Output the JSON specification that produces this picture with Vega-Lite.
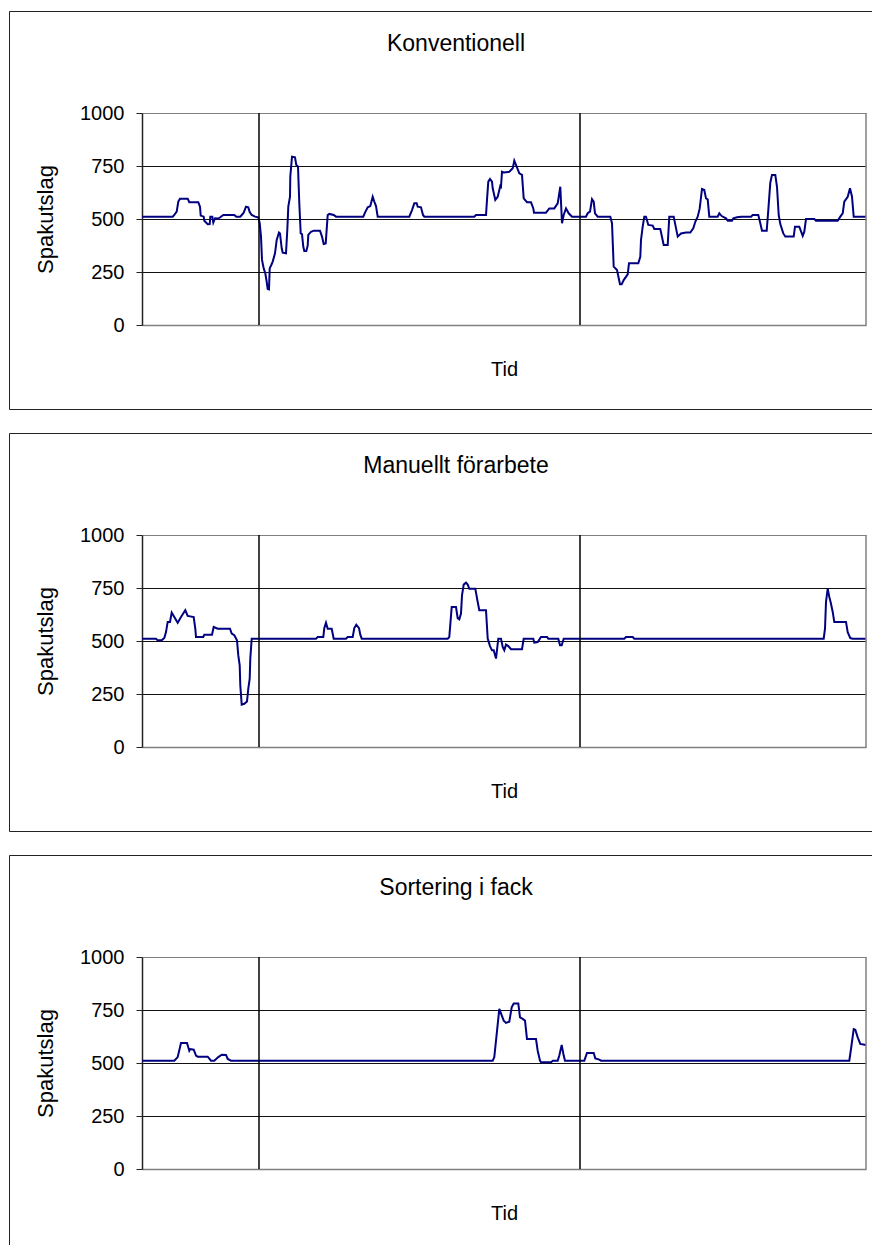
{
  "$schema": "https://vega.github.io/schema/vega-lite/v6.json",
  "padding": {"left": 8, "top": 10, "right": 0, "bottom": 0},
  "autosize": {"type": "pad"},
  "config": {
    "font": "Liberation Sans",
    "view": {"stroke": "#222222", "strokeWidth": 1},
    "concat": {"spacing": 22},
    "title": {"fontSize": 23, "fontWeight": "normal", "color": "black", "offset": -45, "baseline": "alphabetic", "anchor": "middle", "dx": 15, "font": "Liberation Sans"},
    "axisY": {"offset": -133, "domainColor": "#222222", "domainWidth": 1.5, "tickColor": "#222222", "tickSize": 6, "labelPadding": 12, "labelFontSize": 20, "labelColor": "black", "titleFontSize": 22, "titleFontWeight": "normal", "titleColor": "black", "titlePadding": 22, "gridWidth": 1},
    "axisX": {"offset": -84, "labels": false, "ticks": false, "grid": false, "domainColor": "#808080", "domainWidth": 1.5, "titleFontSize": 20, "titleFontWeight": "normal", "titlePadding": 34, "titleColor": "black"}
  },
  "datasets": {
    "konv": [
      {"t":0,"v":511},{"t":30.7,"v":511},{"t":32.3,"v":519},{"t":34.7,"v":535},{"t":36.3,"v":582},{"t":38,"v":596},{"t":45.7,"v":596},{"t":47.3,"v":579},{"t":56.3,"v":579},{"t":58,"v":558},{"t":58.7,"v":516},{"t":61.7,"v":511},{"t":62.3,"v":492},{"t":65.7,"v":475},{"t":67.7,"v":476},{"t":68.3,"v":511},{"t":70.3,"v":511},{"t":71.3,"v":483},{"t":73,"v":503},{"t":76.3,"v":502},{"t":78.3,"v":508},{"t":81.3,"v":519},{"t":92.3,"v":519},{"t":94.3,"v":511},{"t":98.3,"v":511},{"t":101.7,"v":530},{"t":104,"v":558},{"t":106.3,"v":555},{"t":107.7,"v":533},{"t":109.7,"v":519},{"t":113,"v":511},{"t":116.3,"v":508},{"t":117.7,"v":480},{"t":119,"v":417},{"t":120,"v":307},{"t":121.7,"v":267},{"t":123.3,"v":244},{"t":124.7,"v":204},{"t":125.7,"v":170},{"t":127,"v":168},{"t":127.7,"v":267},{"t":129.3,"v":283},{"t":130.7,"v":299},{"t":133,"v":338},{"t":134.7,"v":401},{"t":137,"v":436},{"t":138,"v":432},{"t":139.7,"v":362},{"t":140.7,"v":341},{"t":144,"v":338},{"t":145.3,"v":448},{"t":146.3,"v":558},{"t":148,"v":605},{"t":148.3,"v":700},{"t":150,"v":794},{"t":153,"v":791},{"t":154.3,"v":755},{"t":156,"v":747},{"t":157.3,"v":574},{"t":158.7,"v":432},{"t":160,"v":429},{"t":161.3,"v":369},{"t":162.3,"v":349},{"t":164.3,"v":349},{"t":165.7,"v":374},{"t":166.3,"v":425},{"t":169,"v":440},{"t":171.7,"v":445},{"t":178,"v":445},{"t":180,"v":417},{"t":181.7,"v":382},{"t":183.7,"v":385},{"t":185.7,"v":519},{"t":187.3,"v":524},{"t":191.7,"v":519},{"t":194,"v":511},{"t":221.3,"v":511},{"t":223,"v":530},{"t":225.7,"v":555},{"t":228.3,"v":561},{"t":230.7,"v":605},{"t":232.3,"v":582},{"t":234,"v":561},{"t":235.7,"v":511},{"t":267.3,"v":511},{"t":270,"v":542},{"t":272.3,"v":574},{"t":274.7,"v":574},{"t":275.7,"v":558},{"t":279,"v":555},{"t":281,"v":519},{"t":282.3,"v":511},{"t":332.3,"v":511},{"t":334,"v":519},{"t":344,"v":519},{"t":345,"v":590},{"t":346.3,"v":676},{"t":348,"v":689},{"t":350,"v":676},{"t":350.7,"v":645},{"t":353.3,"v":590},{"t":355.7,"v":605},{"t":358.3,"v":656},{"t":359,"v":652},{"t":360,"v":723},{"t":362.3,"v":719},{"t":367.3,"v":723},{"t":370.7,"v":739},{"t":372.3,"v":775},{"t":374,"v":755},{"t":377.3,"v":715},{"t":380,"v":708},{"t":381.7,"v":597},{"t":385,"v":579},{"t":389,"v":579},{"t":391.3,"v":550},{"t":392,"v":530},{"t":404,"v":530},{"t":407.3,"v":550},{"t":412.3,"v":550},{"t":415.7,"v":574},{"t":418.3,"v":652},{"t":420,"v":480},{"t":421.7,"v":519},{"t":424,"v":550},{"t":426.7,"v":527},{"t":430,"v":511},{"t":444,"v":511},{"t":445.7,"v":527},{"t":448,"v":535},{"t":450,"v":594},{"t":451.7,"v":582},{"t":453,"v":527},{"t":455.7,"v":511},{"t":468.3,"v":511},{"t":470,"v":480},{"t":471.7,"v":275},{"t":475,"v":259},{"t":478,"v":192},{"t":479.7,"v":192},{"t":481.7,"v":212},{"t":485.7,"v":239},{"t":487,"v":291},{"t":496.3,"v":291},{"t":498.3,"v":322},{"t":499,"v":401},{"t":500.7,"v":464},{"t":502.3,"v":511},{"t":504,"v":511},{"t":506.3,"v":472},{"t":510.7,"v":469},{"t":512.3,"v":453},{"t":518.3,"v":453},{"t":521.7,"v":377},{"t":525.7,"v":377},{"t":527.3,"v":511},{"t":531.7,"v":511},{"t":535.7,"v":417},{"t":539,"v":432},{"t":544,"v":436},{"t":548.3,"v":436},{"t":551.3,"v":456},{"t":553.3,"v":487},{"t":555.7,"v":511},{"t":557.7,"v":550},{"t":560,"v":642},{"t":562.3,"v":637},{"t":564,"v":597},{"t":565.7,"v":593},{"t":567.3,"v":511},{"t":575.7,"v":511},{"t":577.3,"v":527},{"t":579.7,"v":514},{"t":584,"v":503},{"t":585.7,"v":492},{"t":590,"v":492},{"t":591.3,"v":503},{"t":595,"v":508},{"t":599,"v":511},{"t":609,"v":511},{"t":610.7,"v":519},{"t":616.3,"v":519},{"t":618.3,"v":480},{"t":620,"v":445},{"t":624.7,"v":445},{"t":626.3,"v":542},{"t":628.3,"v":671},{"t":630,"v":708},{"t":633.3,"v":708},{"t":635,"v":652},{"t":636.7,"v":519},{"t":638.3,"v":476},{"t":641.3,"v":432},{"t":643.3,"v":417},{"t":651.7,"v":417},{"t":653,"v":464},{"t":657.3,"v":464},{"t":660.7,"v":420},{"t":662.3,"v":440},{"t":664,"v":500},{"t":672.3,"v":500},{"t":674,"v":492},{"t":695.7,"v":492},{"t":698.3,"v":511},{"t":700.7,"v":527},{"t":702.3,"v":582},{"t":705.7,"v":605},{"t":708,"v":645},{"t":710,"v":605},{"t":711.7,"v":511},{"t":724,"v":511}
    ],
    "manu": [
      {"t":0,"v":511},{"t":14,"v":511},{"t":15.7,"v":503},{"t":19.7,"v":503},{"t":22.3,"v":514},{"t":24,"v":542},{"t":25.7,"v":590},{"t":28,"v":590},{"t":29.7,"v":634},{"t":32.3,"v":613},{"t":35.7,"v":586},{"t":39,"v":613},{"t":43.3,"v":645},{"t":45.7,"v":618},{"t":51.7,"v":613},{"t":53.3,"v":558},{"t":54,"v":519},{"t":61.3,"v":519},{"t":62.3,"v":530},{"t":70,"v":530},{"t":71.7,"v":566},{"t":75.7,"v":558},{"t":88,"v":558},{"t":89.7,"v":535},{"t":92.3,"v":527},{"t":95,"v":503},{"t":96.3,"v":432},{"t":97.7,"v":385},{"t":98.3,"v":291},{"t":99.7,"v":200},{"t":102.3,"v":204},{"t":105,"v":215},{"t":106.3,"v":275},{"t":107.7,"v":322},{"t":108.3,"v":417},{"t":109.7,"v":511},{"t":174,"v":511},{"t":175.7,"v":519},{"t":181.3,"v":519},{"t":182.3,"v":561},{"t":184,"v":586},{"t":185.7,"v":558},{"t":189.7,"v":558},{"t":191.7,"v":511},{"t":204,"v":511},{"t":205.7,"v":519},{"t":210.7,"v":519},{"t":212.3,"v":561},{"t":214.3,"v":577},{"t":217,"v":561},{"t":218.3,"v":530},{"t":219.7,"v":511},{"t":305.7,"v":511},{"t":307.3,"v":519},{"t":309.7,"v":660},{"t":314,"v":660},{"t":315.7,"v":608},{"t":317.3,"v":602},{"t":319,"v":629},{"t":320,"v":715},{"t":321.7,"v":766},{"t":324,"v":775},{"t":325.7,"v":766},{"t":327.3,"v":747},{"t":333.3,"v":747},{"t":335.7,"v":684},{"t":337.3,"v":645},{"t":344,"v":645},{"t":345.7,"v":511},{"t":348,"v":476},{"t":350,"v":456},{"t":351.7,"v":456},{"t":354,"v":417},{"t":356.3,"v":511},{"t":359,"v":511},{"t":360.7,"v":472},{"t":362.3,"v":456},{"t":364,"v":483},{"t":366.3,"v":476},{"t":369,"v":461},{"t":380,"v":461},{"t":381.7,"v":511},{"t":391.3,"v":511},{"t":392.3,"v":492},{"t":395.7,"v":495},{"t":399,"v":519},{"t":405,"v":519},{"t":406.3,"v":511},{"t":416.3,"v":511},{"t":418,"v":480},{"t":419.7,"v":480},{"t":421.7,"v":511},{"t":482.3,"v":511},{"t":484,"v":519},{"t":490.7,"v":519},{"t":492.3,"v":511},{"t":681.7,"v":511},{"t":683,"v":558},{"t":684,"v":684},{"t":685.7,"v":747},{"t":687.3,"v":708},{"t":689,"v":676},{"t":690.7,"v":637},{"t":692.3,"v":590},{"t":704,"v":590},{"t":705.7,"v":542},{"t":708.3,"v":514},{"t":710.7,"v":511},{"t":724,"v":511}
    ],
    "sort": [
      {"t":0,"v":511},{"t":32.3,"v":511},{"t":35.7,"v":528},{"t":39,"v":594},{"t":45,"v":594},{"t":47.3,"v":558},{"t":48.3,"v":566},{"t":51.7,"v":563},{"t":54,"v":535},{"t":55.7,"v":530},{"t":65.7,"v":530},{"t":69,"v":511},{"t":72.3,"v":511},{"t":76.3,"v":528},{"t":79.7,"v":539},{"t":84,"v":538},{"t":85.7,"v":519},{"t":89,"v":511},{"t":350.7,"v":511},{"t":352.3,"v":528},{"t":357.3,"v":755},{"t":361.7,"v":700},{"t":364,"v":689},{"t":367.3,"v":695},{"t":369.7,"v":763},{"t":371.7,"v":781},{"t":376.3,"v":781},{"t":378,"v":715},{"t":380.7,"v":708},{"t":383,"v":700},{"t":385,"v":613},{"t":394,"v":613},{"t":395.7,"v":558},{"t":398,"v":511},{"t":399,"v":503},{"t":409,"v":503},{"t":410.7,"v":511},{"t":415.7,"v":511},{"t":417.3,"v":535},{"t":419.7,"v":585},{"t":421.7,"v":535},{"t":423,"v":511},{"t":442.3,"v":511},{"t":445,"v":547},{"t":451.7,"v":547},{"t":453.3,"v":522},{"t":457.3,"v":516},{"t":459,"v":511},{"t":707.3,"v":511},{"t":709,"v":566},{"t":711.7,"v":660},{"t":713.3,"v":657},{"t":715.7,"v":621},{"t":718.3,"v":590},{"t":724,"v":585}
    ],
    "markers": [{"t": 117}, {"t": 438}],
    "edge": [{"t": 724}]
  },
  "vconcat": [
    {
      "width": 864, "height": 398,
      "title": {"text": "Konventionell"},
      "resolve": {"axis": {"y": "independent"}},
      "layer": [
        {"data": {"name": "konv"}, "mark": {"type": "line", "color": "#000080", "strokeWidth": 2},
         "encoding": {"x": {"field": "t", "type": "quantitative", "title": "Tid", "scale": {"domain": [0, 724], "range": [133, 857], "nice": false, "zero": false}},
                      "y": {"field": "v", "type": "quantitative", "title": "Spakutslag", "scale": {"domain": [0, 1000], "range": [314, 102], "nice": false},
                            "axis": {"orient": "left", "values": [0, 250, 500, 750, 1000], "format": "d", "grid": false}}}},
        {"data": {"name": "markers"}, "mark": {"type": "rule", "color": "black", "strokeWidth": 1.5},
         "encoding": {"x": {"field": "t", "type": "quantitative", "title": "Tid", "scale": {"domain": [0, 724], "range": [133, 857], "nice": false, "zero": false}},
                      "y": {"datum": 0, "type": "quantitative", "scale": {"domain": [0, 1000], "range": [314, 102], "nice": false},
                            "axis": {"orient": "left", "offset": 0, "title": null, "values": [0, 250, 500, 750, 1000], "labels": false, "ticks": false, "domain": false, "grid": true, "gridColor": {"condition": {"test": "datum.value === 1000 || datum.value === 0", "value": "#808080"}, "value": "#111111"}}},
                      "y2": {"datum": 1000}}},
        {"data": {"name": "edge"}, "mark": {"type": "rule", "color": "#808080", "strokeWidth": 1.5},
         "encoding": {"x": {"field": "t", "type": "quantitative", "title": "Tid", "scale": {"domain": [0, 724], "range": [133, 857], "nice": false, "zero": false}},
                      "y": {"datum": 0, "type": "quantitative", "scale": {"domain": [0, 1000], "range": [314, 102], "nice": false}, "axis": null}, "y2": {"datum": 1000}}}
      ]
    },
    {
      "width": 864, "height": 398,
      "title": {"text": "Manuellt förarbete"},
      "resolve": {"axis": {"y": "independent"}},
      "layer": [
        {"data": {"name": "manu"}, "mark": {"type": "line", "color": "#000080", "strokeWidth": 2},
         "encoding": {"x": {"field": "t", "type": "quantitative", "title": "Tid", "scale": {"domain": [0, 724], "range": [133, 857], "nice": false, "zero": false}},
                      "y": {"field": "v", "type": "quantitative", "title": "Spakutslag", "scale": {"domain": [0, 1000], "range": [314, 102], "nice": false},
                            "axis": {"orient": "left", "values": [0, 250, 500, 750, 1000], "format": "d", "grid": false}}}},
        {"data": {"name": "markers"}, "mark": {"type": "rule", "color": "black", "strokeWidth": 1.5},
         "encoding": {"x": {"field": "t", "type": "quantitative", "title": "Tid", "scale": {"domain": [0, 724], "range": [133, 857], "nice": false, "zero": false}},
                      "y": {"datum": 0, "type": "quantitative", "scale": {"domain": [0, 1000], "range": [314, 102], "nice": false},
                            "axis": {"orient": "left", "offset": 0, "title": null, "values": [0, 250, 500, 750, 1000], "labels": false, "ticks": false, "domain": false, "grid": true, "gridColor": {"condition": {"test": "datum.value === 1000 || datum.value === 0", "value": "#808080"}, "value": "#111111"}}},
                      "y2": {"datum": 1000}}},
        {"data": {"name": "edge"}, "mark": {"type": "rule", "color": "#808080", "strokeWidth": 1.5},
         "encoding": {"x": {"field": "t", "type": "quantitative", "title": "Tid", "scale": {"domain": [0, 724], "range": [133, 857], "nice": false, "zero": false}},
                      "y": {"datum": 0, "type": "quantitative", "scale": {"domain": [0, 1000], "range": [314, 102], "nice": false}, "axis": null}, "y2": {"datum": 1000}}}
      ]
    },
    {
      "width": 864, "height": 398,
      "title": {"text": "Sortering i fack"},
      "resolve": {"axis": {"y": "independent"}},
      "layer": [
        {"data": {"name": "sort"}, "mark": {"type": "line", "color": "#000080", "strokeWidth": 2},
         "encoding": {"x": {"field": "t", "type": "quantitative", "title": "Tid", "scale": {"domain": [0, 724], "range": [133, 857], "nice": false, "zero": false}},
                      "y": {"field": "v", "type": "quantitative", "title": "Spakutslag", "scale": {"domain": [0, 1000], "range": [314, 102], "nice": false},
                            "axis": {"orient": "left", "values": [0, 250, 500, 750, 1000], "format": "d", "grid": false}}}},
        {"data": {"name": "markers"}, "mark": {"type": "rule", "color": "black", "strokeWidth": 1.5},
         "encoding": {"x": {"field": "t", "type": "quantitative", "title": "Tid", "scale": {"domain": [0, 724], "range": [133, 857], "nice": false, "zero": false}},
                      "y": {"datum": 0, "type": "quantitative", "scale": {"domain": [0, 1000], "range": [314, 102], "nice": false},
                            "axis": {"orient": "left", "offset": 0, "title": null, "values": [0, 250, 500, 750, 1000], "labels": false, "ticks": false, "domain": false, "grid": true, "gridColor": {"condition": {"test": "datum.value === 1000 || datum.value === 0", "value": "#808080"}, "value": "#111111"}}},
                      "y2": {"datum": 1000}}},
        {"data": {"name": "edge"}, "mark": {"type": "rule", "color": "#808080", "strokeWidth": 1.5},
         "encoding": {"x": {"field": "t", "type": "quantitative", "title": "Tid", "scale": {"domain": [0, 724], "range": [133, 857], "nice": false, "zero": false}},
                      "y": {"datum": 0, "type": "quantitative", "scale": {"domain": [0, 1000], "range": [314, 102], "nice": false}, "axis": null}, "y2": {"datum": 1000}}}
      ]
    }
  ]
}
